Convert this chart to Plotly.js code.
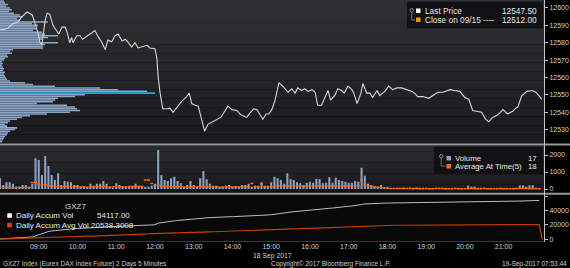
<!DOCTYPE html>
<html><head><meta charset="utf-8">
<script src="https://cdn.plot.ly/plotly-3.0.1.min.js"></script>
<style>html,body{margin:0;padding:0;background:#000;}#chart{width:570px;height:268px;}</style>
</head><body><div id="chart"></div>
<script>
const DAY = '2017-09-18 ';
const priceTimes = ["08:00","08:11","08:20","08:28","08:34","08:42","08:50","08:54","08:59","09:02","09:05","09:07","09:10","09:13","09:17","09:22","09:28","09:31","09:36","09:41","09:44","09:48","09:51","09:53","09:59","10:04","10:08","10:15","10:21","10:27","10:32","10:38","10:43","10:47","10:53","10:58","11:03","11:09","11:14","11:18","11:24","11:29","11:34","11:40","11:48","11:52","12:00","12:03","12:05","12:08","12:12","12:19","12:23","12:28","12:34","12:42","12:48","12:53","12:57","13:02","13:07","13:13","13:17","13:22","13:30","13:36","13:42","13:47","13:53","13:59","14:07","14:13","14:22","14:27","14:33","14:38","14:42","14:47","14:52","14:56","15:01","15:06","15:12","15:18","15:26","15:32","15:37","15:41","15:47","15:52","15:57","16:03","16:08","16:12","16:18","16:23","16:28","16:32","16:39","16:43","16:49","16:53","16:59","17:05","17:08","17:13","17:19","17:22","17:28","17:33","17:37","17:44","17:48","17:56","18:02","18:08","18:15","18:22","18:30","18:38","18:42","18:47","18:55","19:04","19:10","19:18","19:26","19:37","19:44","19:52","20:00","20:06","20:12","20:18","20:26","20:32","20:37","20:43","20:51","20:59","21:06","21:14","21:19","21:22","21:28","21:36","21:44","21:50","21:56","21:59"];
const priceValues = [12587.3,12588,12591,12592,12595,12597.7,12596,12591,12585.5,12580,
12579,12585,12593,12597,12596.5,12590,12587,12585,12589,12589,
12586,12580,12583,12580,12584,12584,12582,12584,12585.5,12587,
12583.5,12580,12576,12581.5,12580.5,12584,12585,12581,12582,12580.5,
12577.5,12580,12577,12577.5,12578.5,12577,12576.5,12571,12560,12551,
12542,12542,12542.5,12540,12543,12546.5,12548.5,12551,12545,12544,
12543.5,12535,12529,12533,12534.5,12536,12537,12540,12543.5,12541.5,
12541,12538.5,12537,12539.5,12542,12541.5,12539,12536,12539,12539,
12541.5,12547,12557,12555,12551.5,12553.5,12551,12554,12552.5,12553.5,
12552,12553,12551.5,12544,12544,12548.5,12552.5,12547,12550,12553.5,
12552.5,12551,12555,12553,12551,12545,12551,12556.5,12551,12551,
12548.5,12552.5,12549.5,12552,12555,12553,12554,12554,12553,12552,
12551,12549,12549,12548,12549.5,12551.5,12551.5,12553,12552.5,12552,
12548.5,12547.5,12541,12540.5,12540,12536,12534.5,12537,12538.5,12541.5,
12539,12540.5,12542.5,12543,12549.5,12552,12552.5,12551.5,12548.5,12547.5];

const profilePrices = [12604,12603,12602,12601,12600,12599,12598,12597,12596,12595,
12594,12593,12592,12591,12590,12589,12588,12587,12586,12585,
12584,12583,12582,12581,12580,12579,12578,12577,12576,12575,
12574,12573,12572,12571,12570,12569,12568,12567,12566,12565,
12564,12563,12562,12561,12560,12559,12558,12557,12556,12555,
12554,12553,12552,12551,12550,12549,12548,12547,12546,12545,
12544,12543,12542,12541,12540,12539,12538,12537,12536,12535,
12534,12533,12532,12531,12530,12529,12528,12527,12526,12525,
12524,12523];
const profileVolume = [80,100,160,120,200,240,180,280,400,460,
340,400,960,640,760,700,740,660,840,900,
1160,960,840,800,1160,900,860,860,260,200,
240,140,160,100,80,40,60,40,60,80,
60,100,80,100,120,140,200,500,660,1100,
2000,2360,2940,3100,1700,1500,1160,1100,1060,740,
1340,1500,1540,1600,1400,940,600,440,340,200,
160,100,140,340,300,200,160,140,100,80,
60,40];

const volume = [627,235,392,392,314,137,137,235,235,137,
314,1803,1705,823,1940,1352,823,529,921,235,
470,431,392,235,235,137,137,137,314,196,
314,314,470,314,137,78,333,235,137,137,
196,196,314,
196,137,137,137,196,314,2293,823,529,470,
627,725,470,333,137,235,470,235,137,627,
1058,568,314,196,196,78,137,196,235,137,
137,137,235,235,314,137,196,196,392,196,
196,392,725,
627,529,314,921,568,529,392,333,235,372,
431,372,588,568,333,372,686,372,666,529,
470,431,372,372,470,431,1254,784,314,235,
137,137,235,78,98,39,39,39,20,78,
39,78,78,78,
70,71,60,40,40,60,40,40,40,60,
40,40,40,40,40,200,140,140,80,80,
80,60,60,60,40,60,60,60,60,60,
60,200,200,140,220,220,80,17];
const avgAtTime = [110,90,85,95,80,90,85,80,95,90,
380,400,300,250,250,200,
160,140,130,120,150,130,120,130,140,120,130,110,120,140,130,120,130,120,110,130,140,120,130,120,140,130,150,
150,150,530,530,330,200,
220,180,150,140,130,120,130,140,120,110,130,120,130,140,120,110,120,130,120,110,120,130,140,120,130,120,110,130,140,320,130,120,300,130,140,120,150,
200,180,190,170,180,200,190,170,160,180,170,190,180,170,160,180,190,170,160,180,170,160,180,170,190,200,530,260,180,150,120,100,80,70,
40,35,30,30,25,25,30,25,20,25,20,20,25,20,20,25,30,25,20,20,20,25,20,20,20,20,25,20,20,20,25,20,20,20,20,25,20,20,20,20,25,30,25,25,20,20,15,18];
const accumAvgResetTime = '22:00';
const accumAvgResetValue = 0;

const hourTicks = ['09:00','10:00','11:00','12:00','13:00','14:00','15:00','16:00','17:00','18:00','19:00','20:00','21:00'];
const priceTicks = [12530,12540,12550,12560,12570,12580,12590,12600];
const volTicks = [0,1000,2000];
const accumTicks = [0,20000,40000,60000];
const accumTickText = ['0','20000','40000',''];

// bar timestamps: 5-minute bars starting 08:00
function pad(n){return (n<10?'0':'')+n;}
const barTimes = volume.map((v,i)=>{const m=8*60+5*i;return DAY+pad(Math.floor(m/60))+':'+pad(m%60);});
function cumsum(a){let s=0;return a.map(v=>s+=v);}
const accumVol = cumsum(volume);
const accumAvg = cumsum(avgAtTime).concat([accumAvgResetValue]);
const accumAvgTimes = barTimes.concat([DAY+accumAvgResetTime]);

const W=570,H=268;
const px=x=>x/W, py=y=>1-y/H;
const FONT='Liberation Sans, Arial, sans-serif';
const xDom=[0,544/W];
const xRange=[DAY+'08:00', DAY+'22:02:30'];

const maxProf=Math.max(...profileVolume);
const profColors=profileVolume.map(v=>v===maxProf?'#19a8dc':'#8ca5c7');

const traces=[
 {type:'bar',orientation:'h',x:profileVolume,y:profilePrices,xaxis:'x2',yaxis:'y',width:0.88,
  marker:{color:profColors,line:{width:0}},hoverinfo:'skip'},
 {type:'scatter',mode:'lines',x:priceTimes.map(t=>DAY+t),y:priceValues,xaxis:'x3',yaxis:'y',
  line:{color:'#d6d6d6',width:1.1},hoverinfo:'skip'},
 {type:'bar',x:barTimes,y:volume,xaxis:'x',yaxis:'y2',width:190000,
  marker:{color:'#8aa3c5',line:{width:0}},hoverinfo:'skip'},
 {type:'scatter',mode:'markers',x:barTimes,y:avgAtTime,xaxis:'x',yaxis:'y2',
  marker:{symbol:'line-ew',size:2.1,line:{width:1.5,color:'#ff6a10'}},hoverinfo:'skip'},
 {type:'scatter',mode:'lines',x:barTimes,y:accumVol,xaxis:'x',yaxis:'y3',
  line:{color:'#bdbdbd',width:1},hoverinfo:'skip'},
 {type:'scatter',mode:'lines',x:accumAvgTimes,y:accumAvg,xaxis:'x',yaxis:'y3',
  line:{color:'#c63c00',width:1.2},hoverinfo:'skip'}
];

function hexToRgb(h){return [parseInt(h.substr(1,2),16),parseInt(h.substr(3,2),16),parseInt(h.substr(5,2),16)];}
function grad(y0,y1,cTop,cBot,n){
  const a=hexToRgb(cTop),b=hexToRgb(cBot),out=[];
  for(let i=0;i<n;i++){
    const t=i/(n-1);
    const c='rgb('+a.map((v,k)=>Math.round(v+(b[k]-v)*t)).join(',')+')';
    const ya=y0+(y1-y0)*i/n, yb=y0+(y1-y0)*(i+1)/n;
    out.push({type:'rect',xref:'paper',yref:'paper',x0:0,x1:px(544),y0:py(yb),y1:py(ya),fillcolor:c,line:{width:0},layer:'below'});
  }
  return out;
}
const shapes=[].concat(
  grad(0,143.5,'#2f2f32','#1b1b1e',16),
  grad(146,190,'#2b2b2e','#1c1c1f',8),
  [{type:'rect',xref:'paper',yref:'paper',x0:0,x1:px(544),y0:py(192.5),y1:py(190),fillcolor:'#121212',line:{width:0},layer:'below'},
   {type:'rect',xref:'paper',yref:'paper',x0:0,x1:px(544),y0:py(241),y1:py(195),fillcolor:'#090909',line:{width:0},layer:'below'},
   {type:'line',xref:'paper',yref:'paper',x0:0,x1:1,y0:py(144.5),y1:py(144.5),line:{color:'#9a9a9a',width:2}},
   {type:'line',xref:'paper',yref:'paper',x0:0,x1:1,y0:py(193.7),y1:py(193.7),line:{color:'#9a9a9a',width:2}},
   {type:'line',xref:'paper',yref:'paper',x0:0,x1:px(544),y0:py(241.5),y1:py(241.5),line:{color:'#3a3a3a',width:1}},
   {type:'line',xref:'paper',yref:'paper',x0:px(544.5),x1:px(544.5),y0:py(0),y1:py(242),line:{color:'#c4c4c4',width:1}},
   // legend boxes
   {type:'rect',xref:'paper',yref:'paper',x0:px(407),x1:px(543),y0:py(28.3),y1:py(1.7),fillcolor:'rgba(16,16,18,0.92)',line:{width:0}},
   {type:'rect',xref:'paper',yref:'paper',x0:px(434),x1:px(543),y0:py(174.3),y1:py(146.8),fillcolor:'rgba(16,16,18,0.92)',line:{width:0}},
   // legend squares
   {type:'rect',xref:'paper',yref:'paper',x0:px(416),x1:px(420.5),y0:py(13),y1:py(8.5),fillcolor:'#ffffff',line:{width:0}},
   {type:'rect',xref:'paper',yref:'paper',x0:px(416),x1:px(420.5),y0:py(22),y1:py(17.5),fillcolor:'#f59a0c',line:{width:0}},
   {type:'rect',xref:'paper',yref:'paper',x0:px(446.5),x1:px(451),y0:py(160.5),y1:py(156),fillcolor:'#8aa3c5',line:{width:0}},
   {type:'rect',xref:'paper',yref:'paper',x0:px(446.5),x1:px(451),y0:py(168.5),y1:py(164),fillcolor:'#ff6a10',line:{width:0}},
   {type:'rect',xref:'paper',yref:'paper',x0:px(7.3),x1:px(11.8),y0:py(217.8),y1:py(213.3),fillcolor:'#ffffff',line:{width:0}},
   {type:'rect',xref:'paper',yref:'paper',x0:px(7.3),x1:px(11.8),y0:py(227.3),y1:py(222.8),fillcolor:'#e24400',line:{width:0}},
   // legend handles
   {type:'circle',xref:'paper',yref:'paper',x0:px(410),x1:px(413.5),y0:py(12),y1:py(8.5),line:{color:'#8a8a8a',width:1}},
   {type:'path',xref:'paper',yref:'paper',path:'M'+px(411.8)+','+py(12)+' L'+px(411.8)+','+py(20)+' L'+px(415)+','+py(20),line:{color:'#8a8a8a',width:0.8}},
   {type:'circle',xref:'paper',yref:'paper',x0:px(439.5),x1:px(443),y0:py(158),y1:py(154.5),line:{color:'#8a8a8a',width:1}},
   {type:'path',xref:'paper',yref:'paper',path:'M'+px(441.2)+','+py(158)+' L'+px(441.2)+','+py(166)+' L'+px(445.5)+','+py(166),line:{color:'#8a8a8a',width:0.8}}
  ]);

function ann(text,x,y,anchor,size,color){
  return {text:text,xref:'paper',yref:'paper',x:px(x),y:py(y),xanchor:anchor,yanchor:'middle',showarrow:false,
    font:{family:FONT,size:size,color:color||'#e6e6e6'}};
}
const annotations=[
  ann('Last Price',422.5,10.8,'left',8.3),
  ann('12547.50',539,10.8,'right',8.3),
  ann('Close on 09/15 ----',422.5,20,'left',8.3),
  ann('12512.00',539,20,'right',8.3),
  ann('Volume',452.5,158,'left',7.8),
  ann('17',539,158,'right',7.8),
  ann('Average At Time(5)',452.5,166.5,'left',7.8),
  ann('18',539,166.5,'right',7.8),
  ann('GXZ7',63,206.8,'left',8,'#d8d8d8'),
  ann('Daily Accum Vol',13.5,215.8,'left',8),
  ann('54117.00',95,215.8,'left',8),
  ann('Daily Accum Avg Vol 20538.3008',13.5,225.2,'left',8),
  ann('18 Sep 2017',272,256,'center',6.8,'#d0d0d0'),
  ann('GXZ7 Index (Eurex DAX Index Future) 2 Days 5 Minutes',1,264,'left',6.5,'#cfcfcf'),
  ann('Copyright© 2017 Bloomberg Finance L.P.',331,264,'center',6.5,'#cfcfcf'),
  ann('19-Sep-2017 07:53:44',569,264,'right',6.5,'#cfcfcf')
];

const tickFont={family:FONT,size:7,color:'#d2d2d2'};
const yCommon={side:'right',showgrid:false,zeroline:false,ticks:'outside',ticklen:3,tickwidth:1,tickcolor:'#bdbdbd',
  showline:true,linecolor:'#c4c4c4',linewidth:1,tickfont:tickFont,fixedrange:true};

const layout={
  width:W,height:H,margin:{l:0,r:0,t:0,b:0,pad:0},
  paper_bgcolor:'#000',plot_bgcolor:'rgba(0,0,0,0)',showlegend:false,hovermode:false,
  font:{family:FONT,color:'#d2d2d2'},
  xaxis:{type:'date',domain:xDom,anchor:'y3',range:xRange,showgrid:false,zeroline:false,showline:false,
    tickvals:hourTicks.map(t=>DAY+t),ticktext:hourTicks,ticks:'',tickfont:tickFont,fixedrange:true},
  xaxis2:{domain:xDom,anchor:'y',range:[0,10880],visible:false,fixedrange:true},
  xaxis3:{type:'date',domain:xDom,anchor:'y',overlaying:'x2',range:xRange,visible:false,fixedrange:true},
  yaxis:Object.assign({},yCommon,{domain:[py(143.5),1],anchor:'x2',range:[12522,12604.6],tickvals:priceTicks,ticktext:priceTicks.map(String)}),
  yaxis2:Object.assign({},yCommon,{domain:[py(192.5),py(146)],anchor:'x',range:[-205,2529],tickvals:volTicks,ticktext:volTicks.map(String)}),
  yaxis3:Object.assign({},yCommon,{domain:[py(241),py(195)],anchor:'x',range:[-2370,61700],tickvals:accumTicks,ticktext:accumTickText}),
  shapes:shapes,annotations:annotations
};
Plotly.newPlot('chart',traces,layout,{staticPlot:true,displayModeBar:false});
</script></body></html>
